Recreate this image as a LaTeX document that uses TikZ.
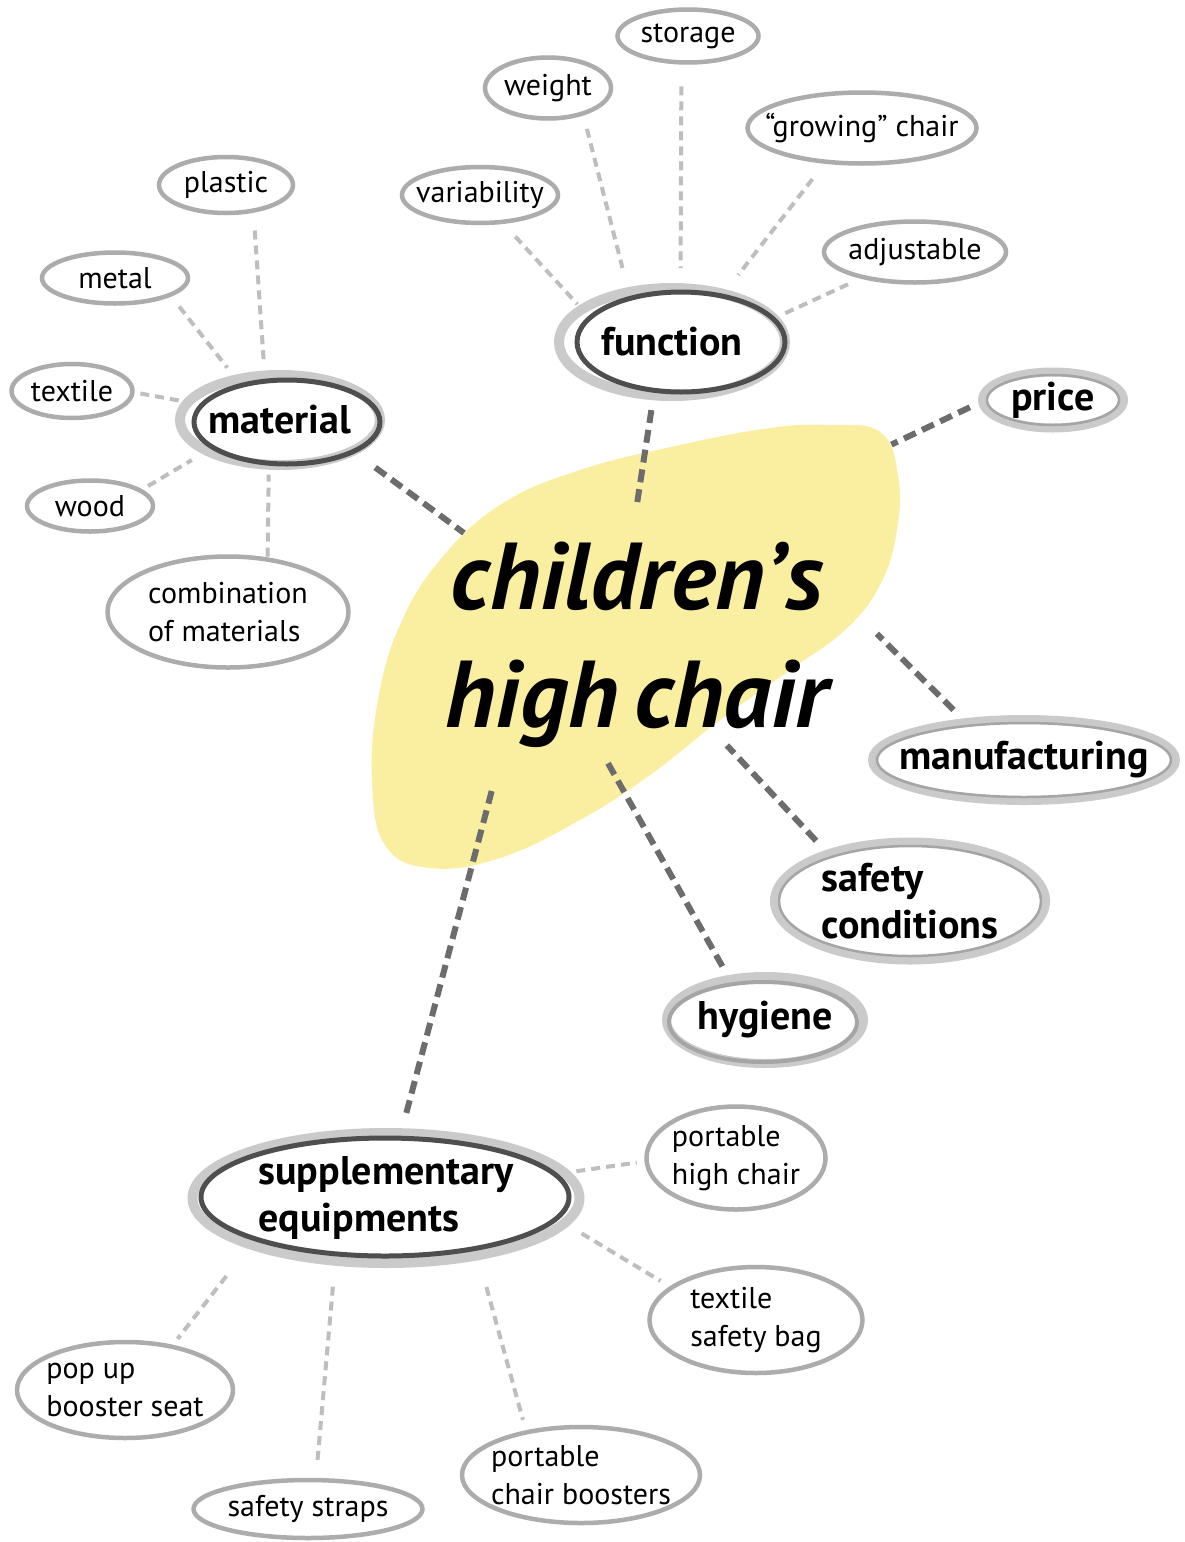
\documentclass[tikz,border=0pt]{standalone}
\usepackage{fontspec}
\setmainfont{PT Sans}
\usetikzlibrary{shapes.geometric}
\definecolor{blobyellow}{RGB}{250,239,160}
\definecolor{ringgray}{RGB}{172,172,172}
\definecolor{ringlight}{RGB}{202,202,202}
\definecolor{ringdark}{RGB}{78,78,78}
\definecolor{ringmid}{RGB}{165,165,165}
\definecolor{dashlight}{RGB}{190,190,190}
\definecolor{dashdark}{RGB}{108,108,108}
\newcommand\smallnodefont{\fontsize{30pt}{38pt}\selectfont}
\newcommand\bignodefont{\fontsize{40pt}{47pt}\selectfont\bfseries}
\newcommand\titlefont{\fontsize{95pt}{118pt}\selectfont\bfseries\itshape}
\tikzset{
  base/.style={ellipse, inner xsep=-30pt, inner ysep=-12pt, outer sep=0pt, align=left, text=black},
  minor/.style={base, draw=ringgray, line width=4.5pt, font=\smallnodefont},
  major/.style={base, draw=ringlight, line width=10pt, font=\bignodefont},
  soft/.style={base, draw=ringlight, line width=9pt, font=\bignodefont},
  darkring/.style={draw=ringdark, line width=5pt},
  innerring/.style={draw=ringmid, line width=2.5pt},
  minordash/.style={draw=dashlight, line width=4pt, dash pattern=on 9pt off 6pt},
  maindash/.style={draw=dashdark, line width=6pt, dash pattern=on 13pt off 7pt},
  titlenode/.style={rectangle, text width=420pt, minimum height=230pt, inner sep=0pt, outer sep=0pt, align=center, font=\titlefont}
}
\begin{document}
\begin{tikzpicture}[x=1pt,y=-1pt]
\useasboundingbox (0,0) rectangle (1184,1542);
\fill[white] (0,0) rectangle (1184,1542);
% central blob
\fill[blobyellow] plot[smooth cycle, tension=0.7] coordinates {
 (830,425) (880,432) (898,475) (897,530) (880,585) (845,630) (790,670)
 (720,720) (650,775) (580,820) (500,858) (430,868) (385,845) (372,780)
 (378,700) (400,625) (440,560) (500,505) (580,470) (680,445) (770,428)};
\node[titlenode] (title) at (637,645) {children's\\high\,chair};
% function cluster
\node[major, minimum width=226pt, minimum height=108pt] (function) at (672,342) {\raisebox{-5pt}{function}};
\draw[darkring] ([shift={(9,0)}]function.center) ellipse [x radius=104pt, y radius=50pt];
\node[minor, minimum width=141pt, minimum height=53pt] (storage) at (688,36) {storage};
\node[minor, minimum width=126pt, minimum height=61pt] (weight) at (548,88) {weight};
\node[minor, minimum width=229pt, minimum height=71pt] (growing) at (862,128) {“growing” chair};
\node[minor, minimum width=156pt, minimum height=56pt] (variability) at (480,195) {variability};
\node[minor, minimum width=182pt, minimum height=61pt] (adjustable) at (915,252) {adjustable};
% material cluster
\node[major, minimum width=200pt, minimum height=90pt] (material) at (280,420) {material};
\draw[darkring] ([shift={(7,2)}]material.center) ellipse [x radius=93pt, y radius=42pt];
\node[minor, minimum width=134pt, minimum height=56pt] (plastic) at (226,185) {plastic};
\node[minor, minimum width=146pt, minimum height=51pt] (metal) at (115,278) {metal};
\node[minor, minimum width=121pt, minimum height=54pt] (textile) at (72,391) {textile};
\node[minor, minimum width=126pt, minimum height=51pt] (wood) at (90,506) {wood};
\node[minor, minimum width=241pt, minimum height=111pt] (combination) at (228,612) {combination\\of materials};
% other main topics
\node[soft, minimum width=141pt, minimum height=56pt] (price) at (1053,400) {price};
\draw[innerring] (price.center) ellipse [x radius=66pt, y radius=25pt];
\node[soft, minimum width=303pt, minimum height=81pt] (manufacturing) at (1024,760) {manufacturing};
\draw[innerring] (manufacturing.center) ellipse [x radius=147pt, y radius=37pt];
\node[soft, minimum width=271pt, minimum height=118pt] (safety) at (910,901) {safety\\conditions};
\draw[innerring] (safety.center) ellipse [x radius=131pt, y radius=55pt];
\node[soft, minimum width=197pt, minimum height=87pt] (hygiene) at (765,1020) {hygiene};
\draw[innerring, line width=4pt] ([shift={(-2,2)}]hygiene.center) ellipse [x radius=94pt, y radius=40pt];
% supplementary cluster
\node[major, minimum width=387pt, minimum height=130pt] (supplementary) at (386,1198) {supplementary\\equipments};
\draw[darkring] ([shift={(-1,-1)}]supplementary.center) ellipse [x radius=184pt, y radius=59pt];
\node[minor, minimum width=179pt, minimum height=103pt] (portablehigh) at (736,1158) {portable\\high chair};
\node[minor, minimum width=213pt, minimum height=106pt] (safetybag) at (756,1320) {textile\\safety bag};
\node[minor, minimum width=216pt, minimum height=96pt] (popup) at (125,1390) {pop up\\booster seat};
\node[minor, minimum width=229pt, minimum height=58pt] (straps) at (308,1509) {safety straps};
\node[minor, minimum width=238pt, minimum height=96pt] (boosters) at (581,1475) {portable\\chair boosters};
% minor connectors
\draw[minordash, shorten <=24pt, shorten >=20pt] (storage.256) -- (function.81);
\draw[minordash, shorten <=16pt, shorten >=25pt] (weight.324) -- (function.131);
\draw[minordash, shorten <=22pt, shorten >=24pt] (growing.223) -- (function.43);
\draw[minordash, shorten <=20pt, shorten >=7pt] (variability.309) -- (function.160);
\draw[minordash, shorten <=17pt, shorten >=11pt] (adjustable.206) -- (function.13);
\draw[minordash, shorten <=20pt, shorten >=12pt] (plastic.317) -- (material.109);
\draw[minordash, shorten <=15pt, shorten >=15pt] (metal.343) -- (material.137);
\draw[minordash, shorten <=8pt, shorten >=6pt] (textile.359) -- (material.169);
\draw[minordash, shorten <=9pt, shorten >=18pt] (wood.17) -- (material.203);
\draw[minordash, shorten <=3pt, shorten >=10pt] (combination.53) -- (material.256);
\draw[minordash, shorten <=12pt, shorten >=10pt] (supplementary.8) -- (portablehigh.182);
\draw[minordash, shorten <=20pt, shorten >=13pt] (supplementary.352) -- (safetybag.159);
\draw[minordash, shorten <=40pt, shorten >=10pt] (supplementary.199) -- (popup.43);
\draw[minordash, shorten <=26pt, shorten >=16pt] (supplementary.231) -- (straps.75);
\draw[minordash, shorten <=33pt, shorten >=13pt] (supplementary.328) -- (boosters.142);
% main connectors
\draw[maindash, shorten <=15pt, shorten >=25pt] (function.251) -- (title.92);
\draw[maindash, shorten <=28pt, shorten >=-5pt] (material.337) -- (title.147);
\draw[maindash, shorten <=14pt, shorten >=199pt] (price.181) -- (title.57);
\draw[maindash, shorten <=18pt, shorten >=42pt] (manufacturing.147) -- (title.11);
\draw[maindash, shorten <=18pt, shorten >=-20pt] (safety.150) -- (title.312);
\draw[maindash, shorten <=15pt, shorten >=0pt] (hygiene.131) -- (title.255);
\draw[maindash, shorten <=21pt, shorten >=31pt] (supplementary.77) -- (title.220);
\end{tikzpicture}
\end{document}
